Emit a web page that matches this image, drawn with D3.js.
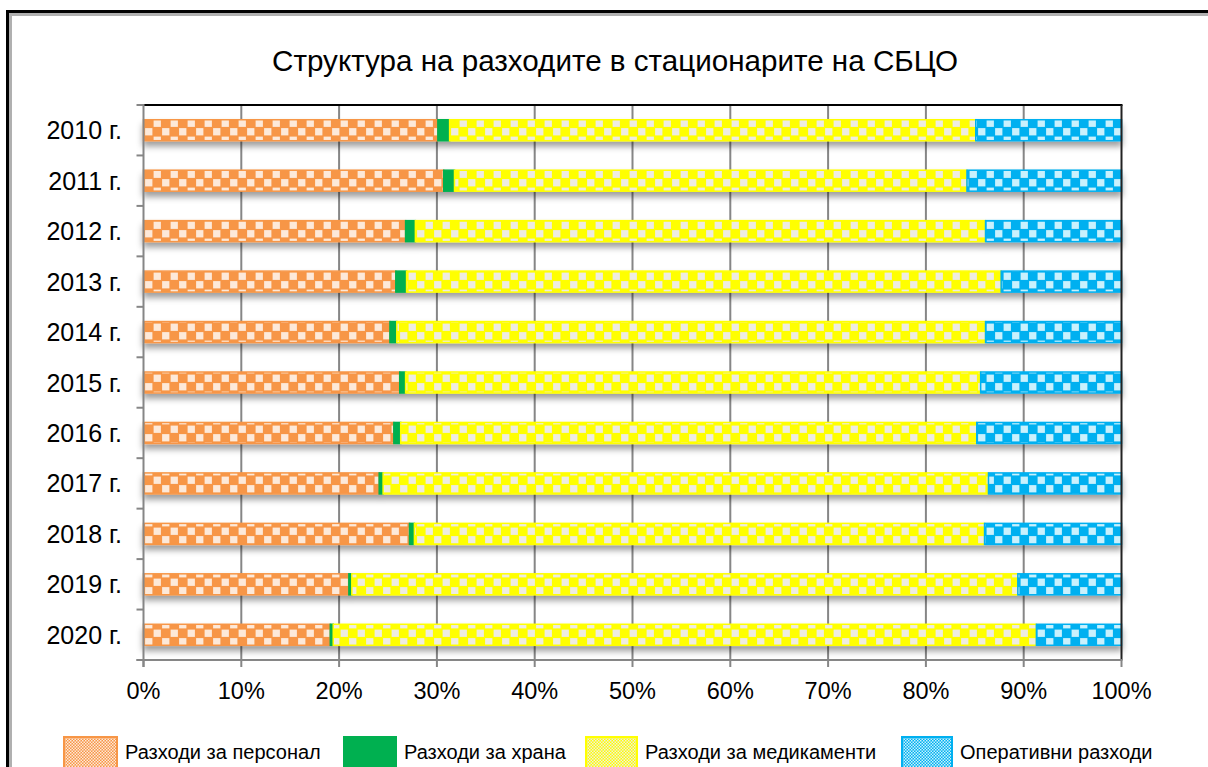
<!DOCTYPE html>
<html>
<head>
<meta charset="utf-8">
<script src="https://cdn.jsdelivr.net/npm/d3@7"></script>
<style>
  html, body { margin: 0; padding: 0; background: #fff; }
  svg { display: block; font-family: Arial, "Liberation Sans", sans-serif; }
</style>
</head>
<body>
<svg id="chart" width="1208" height="767"></svg>
<script>
// Years (categories) and the share of each cost type, in percent
const years = ["2010 г.", "2011 г.", "2012 г.", "2013 г.", "2014 г.", "2015 г.",
               "2016 г.", "2017 г.", "2018 г.", "2019 г.", "2020 г."];
const personnel   = [30.1, 30.7, 26.8, 25.8, 25.2, 26.2, 25.6, 24.1, 27.2, 21.0, 19.1];
const food        = [1.2, 1.1, 1.0, 1.1, 0.7, 0.6, 0.7, 0.4, 0.5, 0.3, 0.3];
const medicines   = [53.8, 52.4, 58.3, 60.8, 60.2, 58.8, 58.9, 61.9, 58.3, 68.1, 71.9];
const operational = [14.9, 15.8, 13.9, 12.3, 13.9, 14.4, 14.8, 13.6, 14.0, 10.6, 8.7];
const seriesNames = ["Разходи за персонал", "Разходи за храна", "Разходи за медикаменти", "Оперативни разходи"];
const xTicks = [0, 0.1, 0.2, 0.3, 0.4, 0.5, 0.6, 0.7, 0.8, 0.9, 1];
const titleText = "Структура на разходите в стационарите на СБЦО";

// fill styles: dark, light checker colour (null = solid)
const styles = [
  { dark: "#F79646", light: "#FDE9D9" },
  { dark: "#00B050", light: null },
  { dark: "#FFFF00", light: "#EEECE1" },
  { dark: "#00B0F0", light: "#C9F1FD" }
];

const keys = ["p", "f", "m", "o"];
const rows = years.map((yr, i) => ({
  year: yr, p: personnel[i], f: food[i], m: medicines[i], o: operational[i]
}));
const stacked = d3.stack().keys(keys).offset(d3.stackOffsetExpand)(rows);

const svg = d3.select("#chart");
const defs = svg.append("defs");

// checker patterns for bars and finer ones for legend swatches
function makePattern(id, st, cell) {
  const pat = defs.append("pattern")
    .attr("id", id).attr("patternUnits", "userSpaceOnUse")
    .attr("width", cell * 2).attr("height", cell * 2);
  pat.append("rect").attr("width", cell * 2).attr("height", cell * 2).attr("fill", st.dark);
  if (st.light) {
    const inset = cell > 3 ? 0.6 : 0;
    pat.append("rect").attr("x", inset).attr("y", inset).attr("width", cell - 2 * inset).attr("height", cell - 2 * inset).attr("fill", st.light);
    pat.append("rect").attr("x", cell + inset).attr("y", cell + inset).attr("width", cell - 2 * inset).attr("height", cell - 2 * inset).attr("fill", st.light);
  }
}
styles.forEach((st, i) => {
  makePattern("pat" + i, st, 8.5);
  makePattern("lpat" + i, st, 1.5);
});

const shadow = defs.append("filter").attr("id", "shadow")
  .attr("x", "-5%").attr("y", "-50%").attr("width", "110%").attr("height", "250%");
shadow.append("feDropShadow").attr("dx", 0).attr("dy", 5).attr("stdDeviation", 3)
  .attr("flood-color", "#000").attr("flood-opacity", 0.38);

// outer frame
svg.append("path").attr("d", "M7.5,767 V11.5 H1208").attr("fill", "none")
  .attr("stroke", "#000").attr("stroke-width", 3);
svg.append("path").attr("d", "M10.5,767 V14.5 H1208").attr("fill", "none")
  .attr("stroke", "#B0B0B0").attr("stroke-width", 3);

const plotLeft = 143.5, plotRight = 1121.5, plotTop = 105, plotBottom = 660;
const x = d3.scaleLinear().domain([0, 1]).range([plotLeft, plotRight]);
const y = d3.scaleBand().domain(years).range([plotTop, plotBottom]).paddingInner(0.584).paddingOuter(0.292);

// title
svg.append("text").attr("x", 615).attr("y", 71).attr("text-anchor", "middle")
  .attr("font-size", 29.6).attr("fill", "#000").text(titleText);

// gridlines
svg.append("g").selectAll("line").data(xTicks.slice(1, -1)).join("line")
  .attr("x1", d => x(d)).attr("x2", d => x(d)).attr("y1", plotTop).attr("y2", plotBottom)
  .attr("stroke", "#868686").attr("stroke-width", 2);

// bars
const barG = svg.append("g").attr("filter", "url(#shadow)");
stacked.forEach((s, si) => {
  barG.append("g").selectAll("rect").data(s).join("rect")
    .attr("x", d => x(d[0]))
    .attr("y", d => y(d.data.year))
    .attr("width", d => x(d[1]) - x(d[0]))
    .attr("height", y.bandwidth())
    .attr("fill", `url(#pat${si})`)
    .attr("stroke", styles[si].dark).attr("stroke-width", 1.5);
});

// plot border: top and right dark, left and bottom grey axes
svg.append("line").attr("x1", plotLeft).attr("x2", plotRight + 1).attr("y1", plotTop).attr("y2", plotTop)
  .attr("stroke", "#000").attr("stroke-width", 2);
svg.append("line").attr("x1", plotRight).attr("x2", plotRight).attr("y1", plotTop).attr("y2", plotBottom)
  .attr("stroke", "#222").attr("stroke-width", 2);

// y axis with ticks at band boundaries
svg.append("line").attr("x1", plotLeft).attr("x2", plotLeft).attr("y1", plotTop - 1).attr("y2", plotBottom + 7)
  .attr("stroke", "#868686").attr("stroke-width", 2);
const boundaries = d3.range(years.length + 1).map(i => plotTop + i * y.step());
svg.append("g").selectAll("line").data(boundaries).join("line")
  .attr("x1", plotLeft - 7).attr("x2", plotLeft).attr("y1", d => d).attr("y2", d => d)
  .attr("stroke", "#868686").attr("stroke-width", 2);
svg.append("g").selectAll("text").data(years).join("text")
  .attr("x", 122).attr("y", d => y(d) + y.bandwidth() / 2 + 9)
  .attr("text-anchor", "end").attr("font-size", 25).attr("fill", "#000").text(d => d);

// x axis
svg.append("line").attr("x1", plotLeft - 7).attr("x2", plotRight + 1).attr("y1", plotBottom).attr("y2", plotBottom)
  .attr("stroke", "#868686").attr("stroke-width", 2);
svg.append("g").selectAll("line").data(xTicks).join("line")
  .attr("x1", d => x(d)).attr("x2", d => x(d)).attr("y1", plotBottom).attr("y2", plotBottom + 7)
  .attr("stroke", "#868686").attr("stroke-width", 2);
svg.append("g").selectAll("text").data(xTicks).join("text")
  .attr("x", d => x(d)).attr("y", 699).attr("text-anchor", "middle")
  .attr("font-size", 23.5).attr("fill", "#000").text(d3.format(".0%"));

// legend
const legendX = [64, 344, 586, 902];
const legendW = [53, 52, 51, 50];
const lg = svg.append("g").selectAll("g").data(seriesNames).join("g")
  .attr("transform", (d, i) => `translate(${legendX[i]},737)`);
lg.append("rect").attr("width", (d, i) => legendW[i]).attr("height", 32)
  .attr("fill", (d, i) => `url(#lpat${i})`)
  .attr("stroke", (d, i) => styles[i].dark).attr("stroke-width", 2);
lg.append("text").attr("x", (d, i) => legendW[i] + 8).attr("y", 22).attr("font-size", 20)
  .attr("fill", "#000").text(d => d);
</script>
</body>
</html>
